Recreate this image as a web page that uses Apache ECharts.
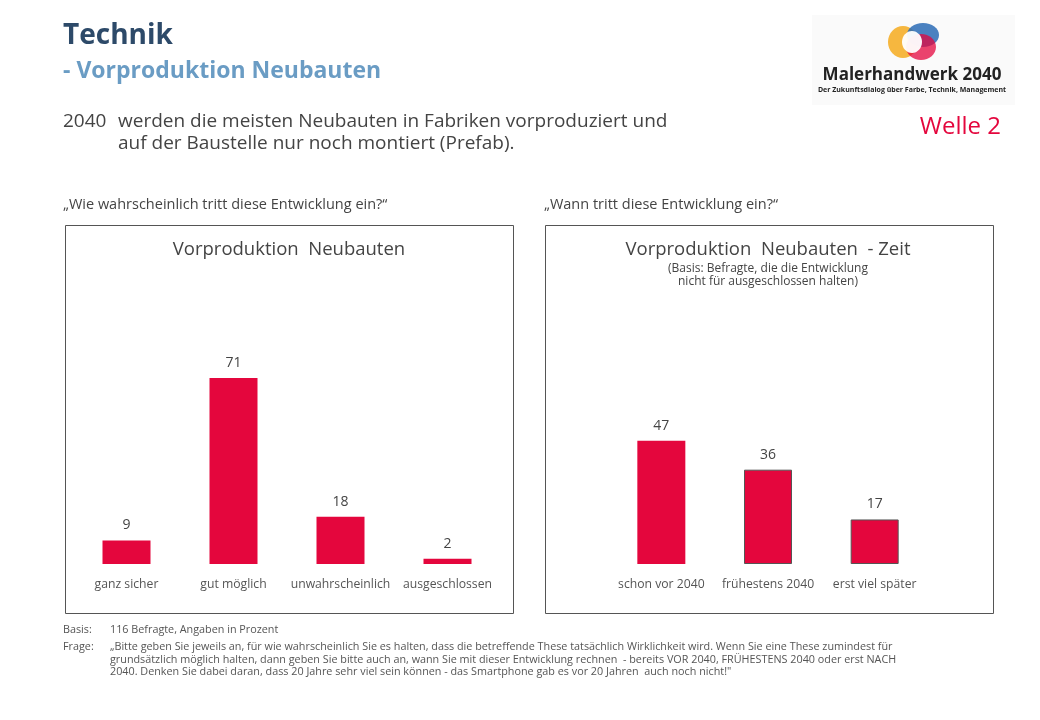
<!DOCTYPE html>
<html><head><meta charset="utf-8">
<script src="https://cdn.jsdelivr.net/npm/echarts@6/dist/echarts.min.js"></script>
<style>html,body{margin:0;padding:0;background:#fff}#c{width:1040px;height:720px}</style>
</head><body><div id="c"></div>
<script>
const catsLeft = ['ganz sicher', 'gut möglich', 'unwahrscheinlich', 'ausgeschlossen'];
const valsLeft = [9, 71, 18, 2];
const catsRight = ['schon vor 2040', 'frühestens 2040', 'erst viel später'];
const valsRight = [47, 36, 17];
const outlinedRight = [false, true, true];

const RED = '#e4063d';
const TXT = '#444';
const FONT = '"Open Sans", "Noto Sans", sans-serif';

const chart = echarts.init(document.getElementById('c'), null, {renderer: 'canvas'});

function txt(x, y, s, size, color, opts) {
  return {
    type: 'text', x: x, y: y,
    style: Object.assign({text: s, fontSize: size, fill: color, fontFamily: FONT, textVerticalAlign: 'middle'}, opts || {})
  };
}

const footer = [
  '„Bitte geben Sie jeweils an, für wie wahrscheinlich Sie es halten, dass die betreffende These tatsächlich Wirklichkeit wird. Wenn Sie eine These zumindest für',
  'grundsätzlich möglich halten, dann geben Sie bitte auch an, wann Sie mit dieser Entwicklung rechnen  - bereits VOR 2040, FRÜHESTENS 2040 oder erst NACH',
  '2040. Denken Sie dabei daran, dass 20 Jahre sehr viel sein können - das Smartphone gab es vor 20 Jahren  auch noch nicht!"'
];

const graphics = [
  txt(63, 36, 'Technik', 28, '#2d4a69', {fontWeight: 'bold'}),
  txt(63, 71, '- Vorproduktion Neubauten', 23, '#6a9cc4', {fontWeight: 'bold'}),
  txt(63, 122, '2040', 19, TXT),
  txt(118, 122, 'werden die meisten Neubauten in Fabriken vorproduziert und', 19, TXT),
  txt(118, 144, 'auf der Baustelle nur noch montiert (Prefab).', 19, TXT),
  txt(1001, 127, 'Welle 2', 24, RED, {textAlign: 'right'}),
  // logo
  {type: 'rect', shape: {x: 812, y: 15, width: 203, height: 90}, style: {fill: '#fafafa'}},
  {type: 'ellipse', shape: {cx: 903, cy: 42, rx: 15, ry: 16}, style: {fill: '#f5b335', opacity: 0.95}},
  {type: 'ellipse', shape: {cx: 923, cy: 35, rx: 16, ry: 12}, style: {fill: '#2a6bb5', opacity: 0.85}},
  {type: 'ellipse', shape: {cx: 921, cy: 47, rx: 15, ry: 13}, style: {fill: '#e4063d', opacity: 0.75}},
  {type: 'ellipse', shape: {cx: 912, cy: 42, rx: 10, ry: 11}, style: {fill: '#ffffff', opacity: 0.95}},
  txt(912, 75, 'Malerhandwerk 2040', 17, '#222', {fontWeight: 'bold', textAlign: 'center'}),
  txt(912, 90, 'Der Zukunftsdialog über Farbe, Technik, Management', 7, '#222', {fontWeight: 'bold', textAlign: 'center'}),
  // questions
  txt(63, 205, '„Wie wahrscheinlich tritt diese Entwicklung ein?“', 14.5, TXT),
  txt(544, 205, '„Wann tritt diese Entwicklung ein?“', 14.5, TXT),
  // boxes
  {type: 'rect', shape: {x: 65.5, y: 225.5, width: 448, height: 388}, style: {fill: 'none', stroke: '#555', lineWidth: 1}},
  {type: 'rect', shape: {x: 545.5, y: 225.5, width: 448, height: 388}, style: {fill: 'none', stroke: '#555', lineWidth: 1}},
  txt(289, 250, 'Vorproduktion  Neubauten', 18.5, TXT, {textAlign: 'center'}),
  txt(768, 250, 'Vorproduktion  Neubauten  - Zeit', 18.5, TXT, {textAlign: 'center'}),
  txt(768, 269, '(Basis: Befragte, die die Entwicklung', 12, TXT, {textAlign: 'center'}),
  txt(768, 282, 'nicht für ausgeschlossen halten)', 12, TXT, {textAlign: 'center'}),
  // footer
  txt(63, 630, 'Basis:', 10.8, '#555'),
  txt(110, 630, '116 Befragte, Angaben in Prozent', 10.8, '#555'),
  txt(63, 647, 'Frage:', 10.8, '#555'),
  txt(110, 647, footer[0], 10.8, '#555'),
  txt(110, 660, footer[1], 10.8, '#555'),
  txt(110, 672, footer[2], 10.8, '#555')
];

const labelStyle = {show: true, position: 'top', distance: 8, fontSize: 14, color: TXT, fontFamily: FONT};
const axisLabel = {fontSize: 12.2, color: '#555', margin: 15, fontFamily: FONT, interval: 0};

chart.setOption({
  animation: false,
  backgroundColor: '#fff',
  grid: [
    {left: 73, width: 428, top: 302, bottom: 156},
    {left: 608, width: 320, top: 302, bottom: 156}
  ],
  xAxis: [
    {type: 'category', gridIndex: 0, data: catsLeft, axisLine: {show: false}, axisTick: {show: false}, axisLabel: axisLabel},
    {type: 'category', gridIndex: 1, data: catsRight, axisLine: {show: false}, axisTick: {show: false}, axisLabel: axisLabel}
  ],
  yAxis: [
    {type: 'value', gridIndex: 0, min: 0, max: 100, show: false},
    {type: 'value', gridIndex: 1, min: 0, max: 100, show: false}
  ],
  series: [
    {type: 'bar', xAxisIndex: 0, yAxisIndex: 0, barWidth: 48, data: valsLeft, itemStyle: {color: RED}, label: labelStyle},
    {type: 'bar', xAxisIndex: 1, yAxisIndex: 1, barWidth: 48,
     data: valsRight.map((v, i) => ({value: v, itemStyle: outlinedRight[i] ? {color: RED, borderColor: '#555', borderWidth: 1} : {color: RED}})),
     label: labelStyle}
  ],
  graphic: graphics
});
</script>
</body></html>
